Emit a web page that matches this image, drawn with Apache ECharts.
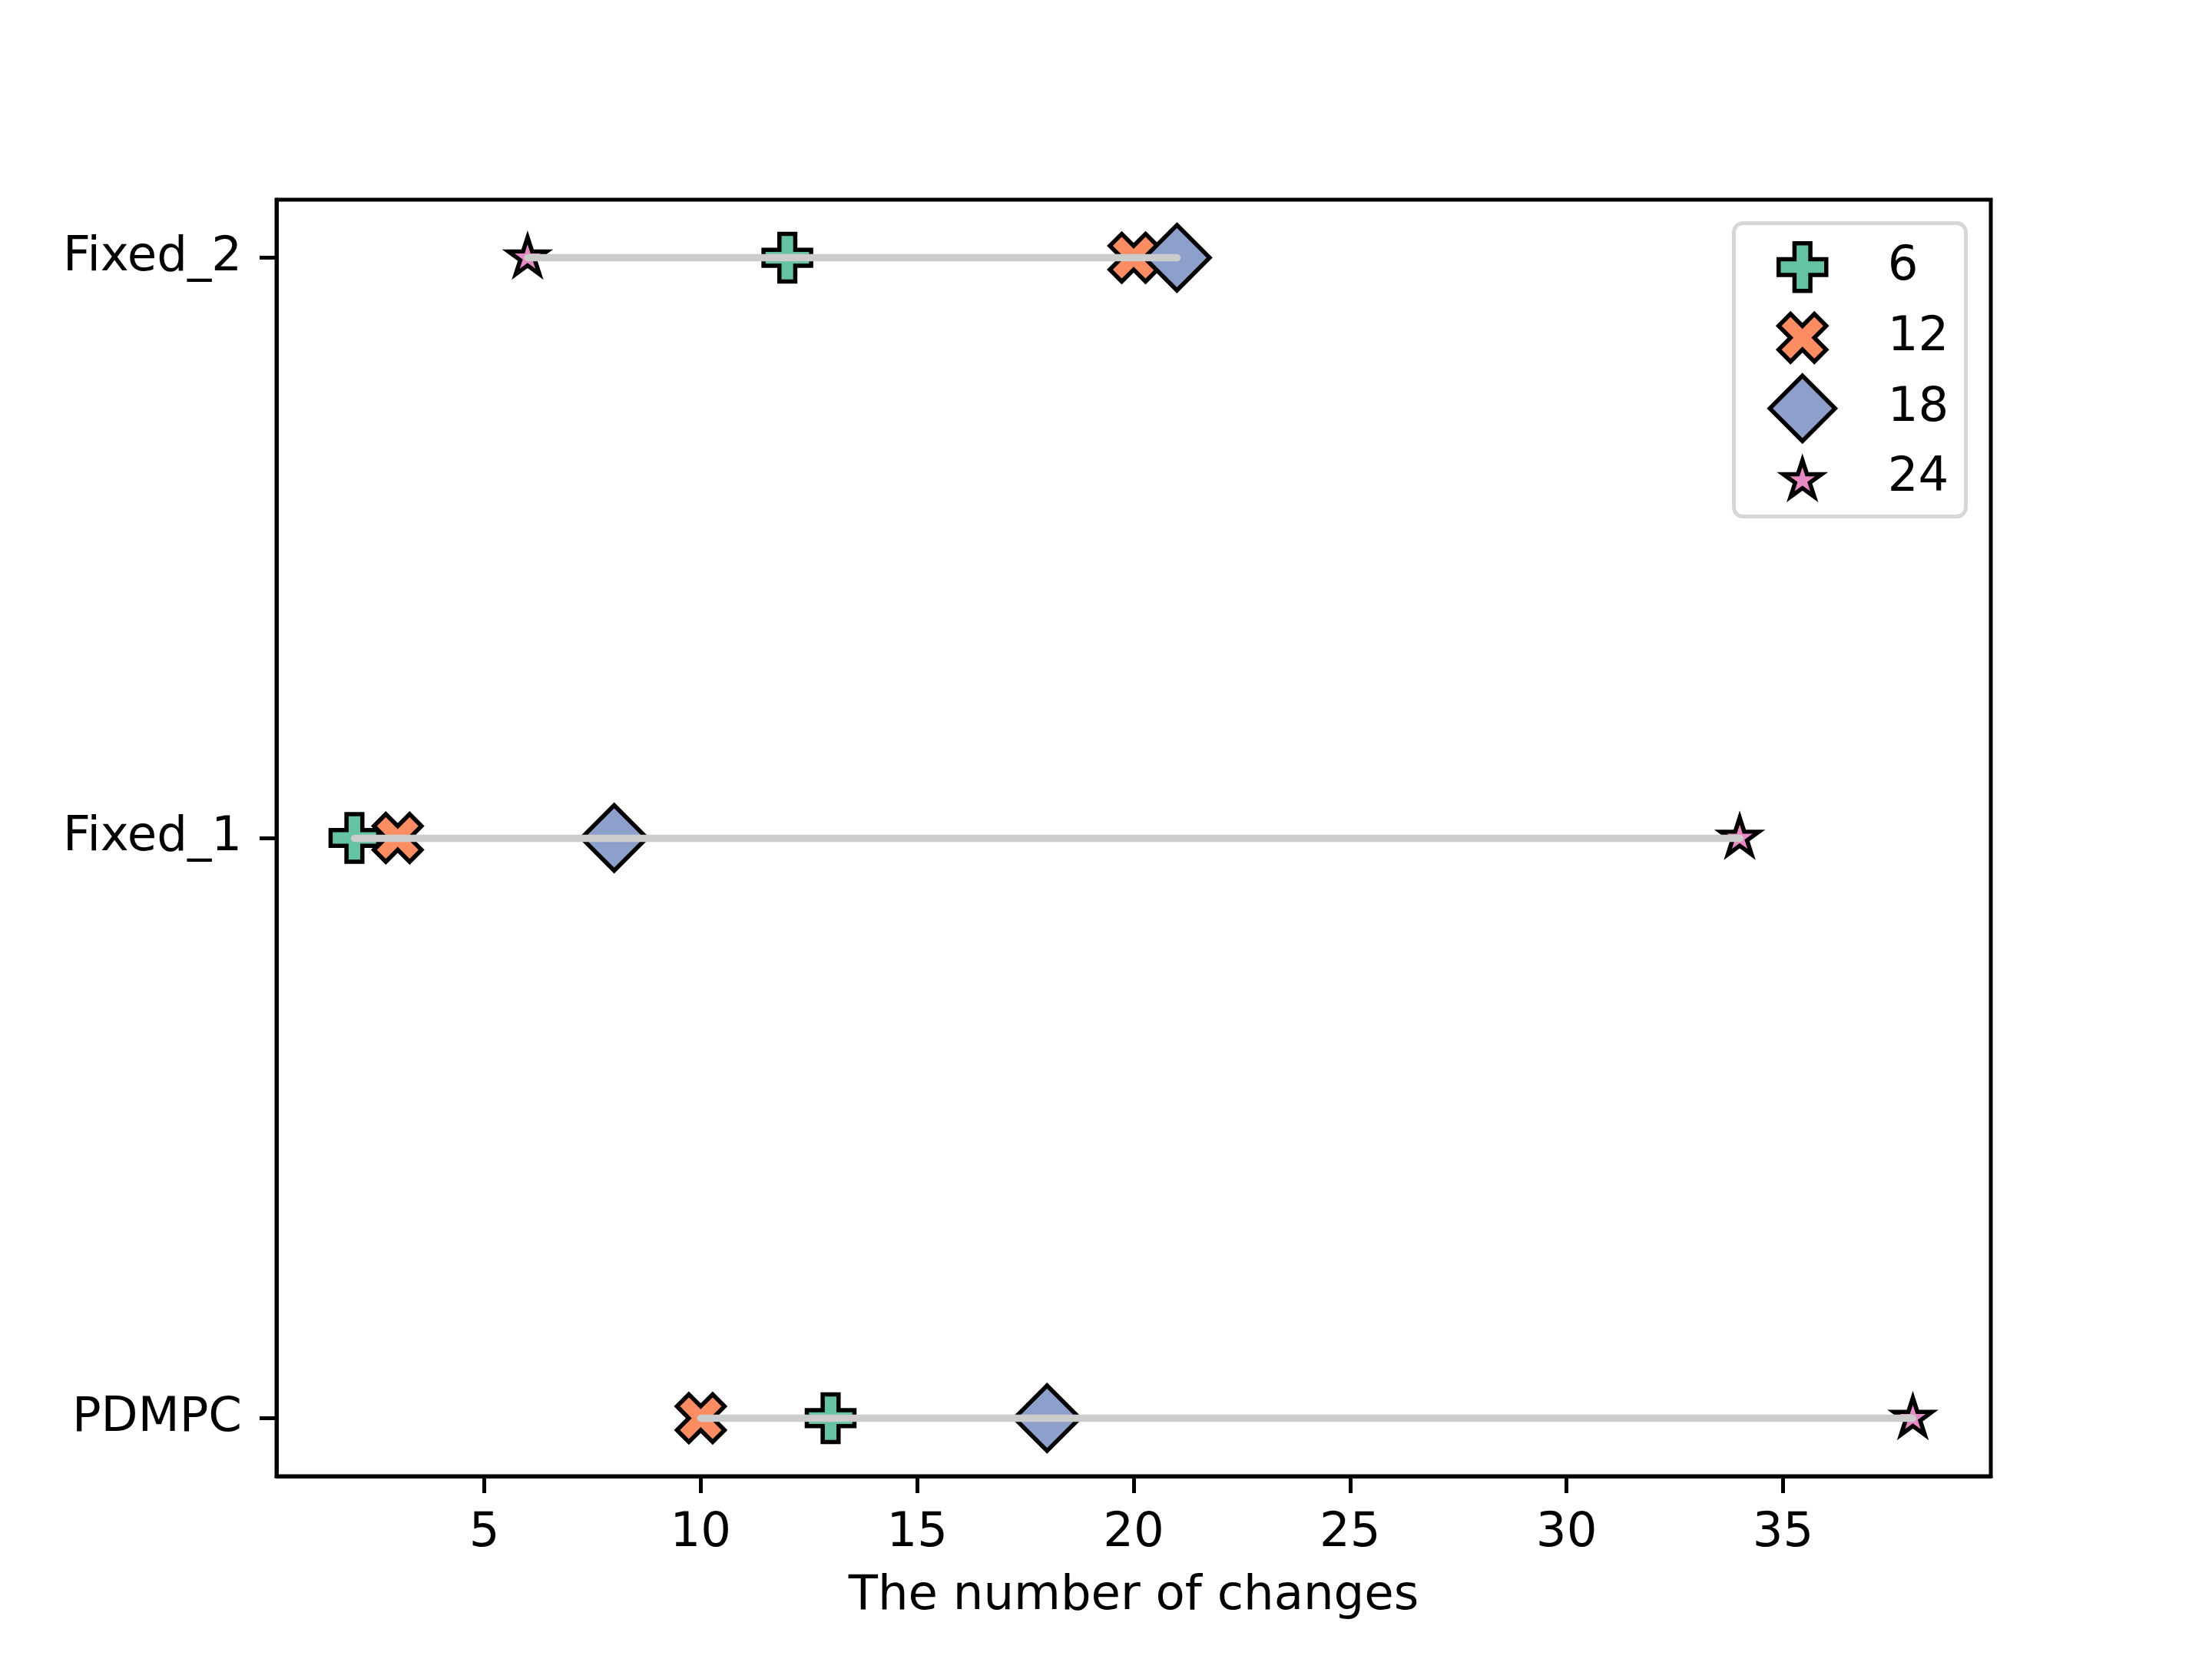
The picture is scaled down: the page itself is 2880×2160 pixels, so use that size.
<!DOCTYPE html>
<html>
<head>
<meta charset="utf-8">
<script src="https://cdn.jsdelivr.net/npm/echarts@6/dist/echarts.min.js"></script>
<style>
html,body{margin:0;padding:0;background:#fff;}
#chart{width:2880px;height:2160px;}
</style>
</head>
<body>
<div id="chart"></div>
<script>
// ---- data ----
const categories = ['PDMPC', 'Fixed_1', 'Fixed_2'];
const groupNames = ['6', '12', '18', '24'];
const values6  = [13, 2, 12];
const values12 = [10, 3, 20];
const values18 = [18, 8, 21];
const values24 = [38, 34, 6];
const xTicks = [5, 10, 15, 20, 25, 30, 35];
const yTicks = [0, 1, 2];

// ---- styles ----
const FONT = 'DejaVu Sans';
const FS = 62.5;
const colors = ['#66c2a5', '#fc8d62', '#8da0cb', '#e78ac3'];
const PLUS = 'path://M-1,-3L1,-3L1,-1L3,-1L3,1L1,1L1,3L-1,3L-1,1L-3,1L-3,-1L-1,-1Z';
const XMARK = 'path://M1.414,-2.828L2.828,-1.414L1.414,0L2.828,1.414L1.414,2.828L0,1.414L-1.414,2.828L-2.828,1.414L-1.414,0L-2.828,-1.414L-1.414,-2.828L0,-1.414Z';
const STAR = 'path://M0,-1L0.2245,-0.309L0.951,-0.309L0.3633,0.118L0.588,0.809L0,0.382L-0.588,0.809L-0.3633,0.118L-0.951,-0.309L-0.2245,-0.309Z';
const symbols = [PLUS, XMARK, 'diamond', STAR];
const sizes = [[62, 62], [62, 62], [85, 85], [50, 48]];
const offsets = [[0, 0], [0, 0], [0, 0], [0, -2.5]];
const allValues = [values6, values12, values18, values24];

const scatterSeries = groupNames.map((g, k) => ({
  name: g,
  type: 'scatter',
  z: 2,
  symbol: symbols[k],
  symbolSize: sizes[k],
  symbolOffset: offsets[k],
  itemStyle: { color: colors[k], borderColor: '#000', borderWidth: 5.5, opacity: 1 },
  emphasis: { disabled: true },
  data: categories.map((c, i) => [allValues[k][i], i])
}));

const rangeSeries = {
  type: 'lines',
  coordinateSystem: 'cartesian2d',
  z: 5,
  silent: true,
  lineStyle: { color: '#cccccc', width: 9.4, opacity: 1, cap: 'round' },
  data: categories.map((c, i) => {
    const xs = allValues.map(a => a[i]);
    return { coords: [[Math.min(...xs), i], [Math.max(...xs), i]] };
  })
};

// legend (one component per entry so each icon keeps its own size)
const legendCenterX = 2344;
const legendCenterY = [345, 437, 529, 615.5];
const legendTextX = 2455;
const legends = groupNames.map((g, k) => {
  const W = sizes[k][0], H = sizes[k][1];
  const left = legendCenterX - W / 2;
  return {
    orient: 'vertical',
    left: left,
    top: legendCenterY[k] - H / 2,
    itemWidth: W,
    itemHeight: H,
    padding: 0,
    itemGap: 0,
    selectedMode: false,
    data: [{
      name: g,
      icon: symbols[k],
      itemStyle: { color: colors[k], borderColor: '#000', borderWidth: 5.5 }
    }],
    textStyle: {
      fontFamily: FONT, fontSize: FS, color: '#000',
      padding: [2, 0, 0, legendTextX - (left + W + 5)]
    }
  };
});

const axisLineStyle = { color: '#000', width: 5 };
const option = {
  animation: false,
  backgroundColor: '#ffffff',
  grid: { left: 360, right: 288, top: 260, bottom: 238, show: true, borderColor: '#000', borderWidth: 5, backgroundColor: 'transparent' },
  graphic: [{
    type: 'rect',
    z: 1,
    shape: { x: 2257.5, y: 290.5, width: 302, height: 382, r: 12 },
    style: { fill: '#ffffff', stroke: '#d6d6d6', lineWidth: 5 }
  }],
  legend: legends,
  xAxis: {
    type: 'value', min: 0.2, max: 39.8,
    name: 'The number of changes', nameLocation: 'middle', nameGap: 125,
    nameTextStyle: { fontFamily: FONT, fontSize: FS, color: '#000' },
    axisLine: { show: true, onZero: false, lineStyle: axisLineStyle },
    axisTick: { show: true, length: 22, lineStyle: axisLineStyle, customValues: xTicks },
    axisLabel: { customValues: xTicks, margin: 43, fontFamily: FONT, fontSize: FS, color: '#000' },
    splitLine: { show: false }
  },
  yAxis: {
    type: 'value', min: -0.1, max: 2.1,
    axisLine: { show: true, onZero: false, lineStyle: axisLineStyle },
    axisTick: { show: true, length: 22, lineStyle: axisLineStyle, customValues: yTicks },
    axisLabel: { customValues: yTicks, margin: 45, fontFamily: FONT, fontSize: FS, color: '#000',
      padding: [8, 0, 0, 0],
      formatter: v => categories[Math.round(v)] },
    splitLine: { show: false }
  },
  series: [...scatterSeries, rangeSeries]
};

const chart = echarts.init(document.getElementById('chart'), null, { width: 2880, height: 2160, renderer: 'canvas' });
chart.setOption(option);
</script>
</body>
</html>
